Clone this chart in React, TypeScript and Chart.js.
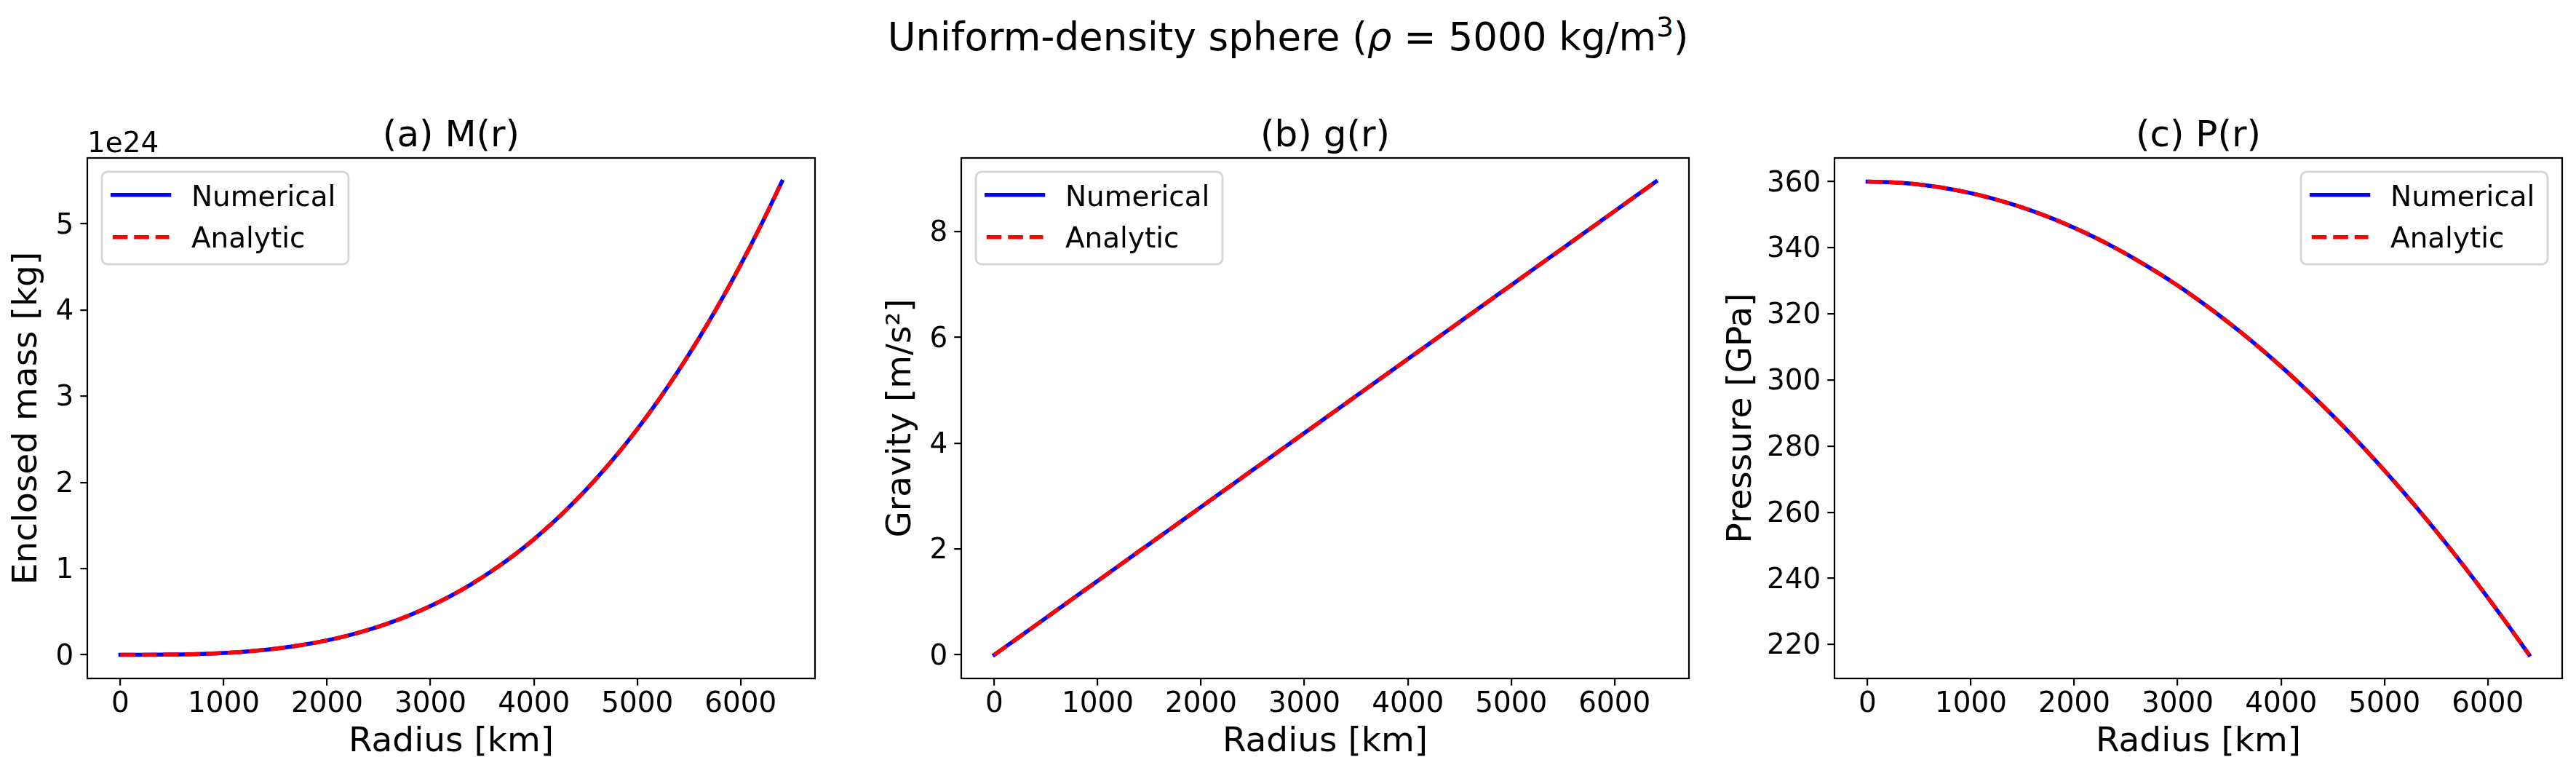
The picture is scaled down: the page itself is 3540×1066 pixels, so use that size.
import React, { useEffect, useRef } from "react";
import { Chart, registerables } from "chart.js";

Chart.register(...registerables);

// ---------------- data ----------------
const RADIUS_KM = [
  0, 200, 400, 600, 800, 1000, 1200, 1400, 1600, 1800, 2000, 2200, 2400, 2600, 2800, 3000, 3200,
  3400, 3600, 3800, 4000, 4200, 4400, 4600, 4800, 5000, 5200, 5400, 5600, 5800, 6000, 6200, 6400,
];

// enclosed mass in units of 1e24 kg
const MASS_NUMERICAL = [
  0, 0.0002, 0.0013, 0.0045, 0.0107, 0.0209, 0.0362, 0.0575, 0.0858, 0.1221, 0.1676, 0.223,
  0.2895, 0.3681, 0.4598, 0.5655, 0.6863, 0.8232, 0.9772, 1.1492, 1.3404, 1.5517, 1.7841, 2.0386,
  2.3162, 2.618, 2.9449, 3.2979, 3.6781, 4.0864, 4.5239, 4.9915, 5.4903,
];
const MASS_ANALYTIC = [
  0, 0.0002, 0.0013, 0.0045, 0.0107, 0.0209, 0.0362, 0.0575, 0.0858, 0.1221, 0.1676, 0.223,
  0.2895, 0.3681, 0.4598, 0.5655, 0.6863, 0.8232, 0.9772, 1.1492, 1.3404, 1.5517, 1.7841, 2.0386,
  2.3162, 2.618, 2.9449, 3.2979, 3.6781, 4.0864, 4.5239, 4.9915, 5.4903,
];

// gravity in m/s^2
const GRAVITY_NUMERICAL = [
  0, 0.2796, 0.5591, 0.8387, 1.1183, 1.3978, 1.6774, 1.9569, 2.2365, 2.5161, 2.7956, 3.0752,
  3.3548, 3.6343, 3.9139, 4.1934, 4.473, 4.7526, 5.0321, 5.3117, 5.5913, 5.8708, 6.1504, 6.4299,
  6.7095, 6.9891, 7.2686, 7.5482, 7.8278, 8.1073, 8.3869, 8.6664, 8.946,
];
const GRAVITY_ANALYTIC = [
  0, 0.2796, 0.5591, 0.8387, 1.1183, 1.3978, 1.6774, 1.9569, 2.2365, 2.5161, 2.7956, 3.0752,
  3.3548, 3.6343, 3.9139, 4.1934, 4.473, 4.7526, 5.0321, 5.3117, 5.5913, 5.8708, 6.1504, 6.4299,
  6.7095, 6.9891, 7.2686, 7.5482, 7.8278, 8.1073, 8.3869, 8.6664, 8.946,
];

// pressure in GPa
const PRESSURE_NUMERICAL = [
  360.0, 359.86, 359.44, 358.74, 357.76, 356.51, 354.97, 353.15, 351.05, 348.68, 346.02, 343.09,
  339.87, 336.38, 332.6, 328.55, 324.22, 319.6, 314.71, 309.54, 304.09, 298.36, 292.35, 286.06,
  279.49, 272.64, 265.51, 258.1, 250.42, 242.45, 234.2, 225.68, 216.87,
];
const PRESSURE_ANALYTIC = [
  360.0, 359.86, 359.44, 358.74, 357.76, 356.51, 354.97, 353.15, 351.05, 348.68, 346.02, 343.09,
  339.87, 336.38, 332.6, 328.55, 324.22, 319.6, 314.71, 309.54, 304.09, 298.36, 292.35, 286.06,
  279.49, 272.64, 265.51, 258.1, 250.42, 242.45, 234.2, 225.68, 216.87,
];

const X_TICKS = [0, 1000, 2000, 3000, 4000, 5000, 6000];
const MASS_TICKS = [0, 1, 2, 3, 4, 5];
const GRAVITY_TICKS = [0, 2, 4, 6, 8];
const PRESSURE_TICKS = [220, 240, 260, 280, 300, 320, 340, 360];

const SERIES_LABELS = ["Numerical", "Analytic"];
const PANEL_TITLES = ["(a) M(r)", "(b) g(r)", "(c) P(r)"];
const Y_LABELS = ["Enclosed mass [kg]", "Gravity [m/s\u00B2]", "Pressure [GPa]"];
const X_LABEL = "Radius [km]";
const MASS_OFFSET_TEXT = "1e24";

// ---------------- styling ----------------
const FONT = '"DejaVu Sans", sans-serif';
const TICK_PX = 38.9;
const LABEL_PX = 47;
const TITLE_PX = 50;
const LEGEND_PX = 38.9;
const FIG_H = 1066;
const AX_TOP = 217;
const AX_BOTTOM = 932;
const AX_W = 1000;
const RIGHT_PAD = 20;

type PanelCfg = {
  title: string;
  yLabel: string;
  numerical: number[];
  analytic: number[];
  yTicks: number[];
  axLeft: number;
  yAxisW: number;
  yTitlePad: number;
  legendCorner: "left" | "right";
  offsetText?: string;
};

const PANELS: PanelCfg[] = [
  {
    title: PANEL_TITLES[0],
    yLabel: Y_LABELS[0],
    numerical: MASS_NUMERICAL,
    analytic: MASS_ANALYTIC,
    yTicks: MASS_TICKS,
    axLeft: 120,
    yAxisW: 120,
    yTitlePad: 14.2,
    legendCorner: "left",
    offsetText: MASS_OFFSET_TEXT,
  },
  {
    title: PANEL_TITLES[1],
    yLabel: Y_LABELS[1],
    numerical: GRAVITY_NUMERICAL,
    analytic: GRAVITY_ANALYTIC,
    yTicks: GRAVITY_TICKS,
    axLeft: 1321,
    yAxisW: 120,
    yTitlePad: 14.2,
    legendCorner: "left",
  },
  {
    title: PANEL_TITLES[2],
    yLabel: Y_LABELS[2],
    numerical: PRESSURE_NUMERICAL,
    analytic: PRESSURE_ANALYTIC,
    yTicks: PRESSURE_TICKS,
    axLeft: 2521,
    yAxisW: 160,
    yTitlePad: 9.2,
    legendCorner: "right",
  },
];

function makeDecorPlugin(cfg: PanelCfg) {
  return {
    id: "panelDecor",
    afterDraw(chart: any) {
      const { ctx } = chart;
      const { left, top, right, bottom } = chart.chartArea;
      ctx.save();
      // axes frame
      ctx.setLineDash([]);
      ctx.strokeStyle = "#000";
      ctx.lineWidth = 2.2;
      ctx.strokeRect(left, top, right - left, bottom - top);

      // panel title
      ctx.fillStyle = "#000";
      ctx.textBaseline = "alphabetic";
      ctx.textAlign = "center";
      ctx.font = `${TITLE_PX}px ${FONT}`;
      ctx.fillText(cfg.title, (left + right) / 2, top - 16.3);

      // offset text (scientific multiplier)
      if (cfg.offsetText) {
        ctx.textAlign = "left";
        ctx.font = `${TICK_PX}px ${FONT}`;
        ctx.fillText(cfg.offsetText, left, top - 7.7);
      }

      // legend
      ctx.font = `${LEGEND_PX}px ${FONT}`;
      const ds = chart.data.datasets;
      const textW = Math.max(...ds.map((d: any) => ctx.measureText(d.label).width));
      const boxW = 123 + textW + 17.6;
      const boxH = 127;
      const bx = cfg.legendCorner === "left" ? left + 20 : right - 20 - boxW;
      const by = top + 19;
      ctx.beginPath();
      ctx.roundRect(bx, by, boxW, boxH, 8);
      ctx.fillStyle = "rgba(255,255,255,0.8)";
      ctx.fill();
      ctx.strokeStyle = "rgba(204,204,204,0.8)";
      ctx.lineWidth = 2.8;
      ctx.stroke();
      ds.forEach((d: any, i: number) => {
        const ly = by + 31.7 + i * 58;
        ctx.beginPath();
        ctx.setLineDash(d.borderDash || []);
        ctx.lineCap = d.borderCapStyle || "butt";
        ctx.strokeStyle = d.borderColor;
        ctx.lineWidth = d.borderWidth;
        ctx.moveTo(bx + 14.75, ly);
        ctx.lineTo(bx + 92.5, ly);
        ctx.stroke();
        ctx.setLineDash([]);
        ctx.fillStyle = "#000";
        ctx.textAlign = "left";
        ctx.textBaseline = "alphabetic";
        ctx.fillText(d.label, bx + 123, by + 47 + i * 57);
      });
      ctx.restore();
    },
  };
}

function Panel({ cfg }: { cfg: PanelCfg }) {
  const ref = useRef<HTMLCanvasElement | null>(null);
  const canvasLeft = cfg.axLeft - cfg.yAxisW;
  const canvasW = cfg.yAxisW + AX_W + RIGHT_PAD;

  useEffect(() => {
    if (!ref.current) return;
    const all = [...cfg.numerical, ...cfg.analytic];
    const yMinData = Math.min(...all);
    const yMaxData = Math.max(...all);
    const yMargin = (yMaxData - yMinData) * 0.05;
    const xMinData = Math.min(...RADIUS_KM);
    const xMaxData = Math.max(...RADIUS_KM);
    const xMargin = (xMaxData - xMinData) * 0.05;

    const tickFont = { family: FONT, size: TICK_PX };
    const gridCfg = {
      drawOnChartArea: false,
      drawTicks: true,
      tickLength: 9.7,
      tickWidth: 2.2,
      tickColor: "#000",
      lineWidth: 2.2,
      color: "#000",
    };

    const chart = new Chart(ref.current, {
      type: "line",
      data: {
        datasets: [
          {
            label: SERIES_LABELS[0],
            data: RADIUS_KM.map((x, i) => ({ x, y: cfg.numerical[i] })),
            borderColor: "#0000ff",
            backgroundColor: "#0000ff",
            borderWidth: 5.5,
            borderCapStyle: "square",
            pointRadius: 0,
            pointHoverRadius: 0,
            fill: false,
            cubicInterpolationMode: "monotone",
            order: 1,
          },
          {
            label: SERIES_LABELS[1],
            data: RADIUS_KM.map((x, i) => ({ x, y: cfg.analytic[i] })),
            borderColor: "#ff0000",
            backgroundColor: "#ff0000",
            borderWidth: 5.5,
            borderDash: [20.6, 8.9],
            borderCapStyle: "butt",
            pointRadius: 0,
            pointHoverRadius: 0,
            fill: false,
            cubicInterpolationMode: "monotone",
            order: 0,
          },
        ],
      },
      options: {
        responsive: false,
        animation: false,
        events: [],
        layout: { padding: { left: 0, right: RIGHT_PAD, top: AX_TOP, bottom: 0 } },
        plugins: {
          legend: { display: false },
          tooltip: { enabled: false },
          title: { display: false },
        },
        scales: {
          x: {
            type: "linear",
            min: xMinData - xMargin,
            max: xMaxData + xMargin,
            afterBuildTicks: (s: any) => {
              s.ticks = X_TICKS.map((v) => ({ value: v }));
            },
            afterFit: (s: any) => {
              s.height = FIG_H - AX_BOTTOM;
            },
            ticks: {
              autoSkip: false,
              maxRotation: 0,
              minRotation: 0,
              color: "#000",
              font: tickFont,
              padding: 2.9,
              callback: (v: any) => String(v),
            },
            grid: gridCfg,
            border: { display: false },
            title: {
              display: true,
              text: X_LABEL,
              color: "#000",
              font: { family: FONT, size: LABEL_PX, lineHeight: 1 },
              padding: { top: 0, bottom: 22.8 },
            },
          },
          y: {
            type: "linear",
            min: yMinData - yMargin,
            max: yMaxData + yMargin,
            afterBuildTicks: (s: any) => {
              s.ticks = cfg.yTicks.map((v) => ({ value: v }));
            },
            afterFit: (s: any) => {
              s.width = cfg.yAxisW;
            },
            ticks: {
              autoSkip: false,
              color: "#000",
              font: tickFont,
              padding: 9,
              labelOffset: 3,
              callback: (v: any) => String(v),
            },
            grid: gridCfg,
            border: { display: false },
            title: {
              display: true,
              text: cfg.yLabel,
              color: "#000",
              font: { family: FONT, size: LABEL_PX, lineHeight: 1 },
              padding: { top: cfg.yTitlePad, bottom: 0 },
            },
          },
        },
      } as any,
      plugins: [makeDecorPlugin(cfg)],
    });
    return () => chart.destroy();
  }, []);

  return (
    <canvas
      ref={ref}
      width={canvasW}
      height={FIG_H}
      style={{ position: "absolute", left: canvasLeft, top: 0, width: canvasW, height: FIG_H }}
    />
  );
}

export default function App() {
  return (
    <div
      style={{
        position: "fixed",
        left: 0,
        top: 0,
        width: 3540,
        height: FIG_H,
        background: "#fff",
        overflow: "hidden",
      }}
    >
      <div
        style={{
          position: "absolute",
          left: 0,
          top: 24,
          width: 3540,
          textAlign: "center",
          fontFamily: FONT,
          fontSize: 53,
          lineHeight: "53px",
          color: "#000",
          whiteSpace: "nowrap",
        }}
      >
        Uniform-density sphere (<span style={{ fontStyle: "italic" }}>ρ</span> = 5000 kg/m
        <span style={{ fontSize: 37, position: "relative", top: -19 }}>3</span>)
      </div>
      {PANELS.map((p, i) => (
        <Panel key={i} cfg={p} />
      ))}
    </div>
  );
}
